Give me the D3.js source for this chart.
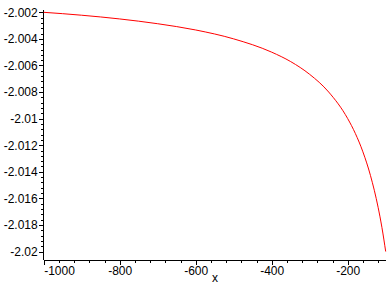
<!DOCTYPE html>
<html>
<head>
<meta charset="utf-8">
<script src="https://cdn.jsdelivr.net/npm/d3@7"></script>
<style>
  body { margin: 0; background: #fff; }
  text { font-family: "Liberation Sans", Arial, sans-serif; }
</style>
</head>
<body>
<div id="chart"></div>
<script>
// curve samples
const xValues = [-1000, -900, -800, -700, -600, -500, -400, -350, -300, -250, -200, -180, -160, -140, -120, -110, -100];
const yValues = [-2.0020, -2.00222, -2.0025, -2.00286, -2.00333, -2.0040, -2.0050, -2.00571, -2.00667, -2.0080, -2.0100, -2.01111, -2.0125, -2.01429, -2.01667, -2.01818, -2.0200];

const xTicks = [-1000, -800, -600, -400, -200];
const yTicks = [-2.002, -2.004, -2.006, -2.008, -2.01, -2.012, -2.014, -2.016, -2.018, -2.02];
const xMinorTicks = d3.range(-1000, -99, 40);
const yMinorTicks = d3.range(0, 46).map(i => -2.002 - i * 0.0004);
const xTitle = 'x';

const width = 388;
const height = 288;

const points = xValues.map((x, i) => ({ x: x, y: yValues[i] }));

const svg = d3.select('#chart')
  .append('svg')
  .attr('width', width)
  .attr('height', height);

const x = d3.scaleLinear()
  .domain([-1000, -100])
  .range([43.7, 385.7]);

const y = d3.scaleLinear()
  .domain([-2.0206, -2.002])
  .range([259.5, 12.3]);

const yTop = 10;

// x axis: minor then major ticks
svg.append('g')
  .attr('transform', `translate(0,${y(-2.0206)})`)
  .attr('shape-rendering', 'crispEdges')
  .call(d3.axisBottom(x).tickValues(xMinorTicks).tickSize(3).tickSizeOuter(0).tickFormat(''));

const xAxis = svg.append('g')
  .attr('transform', `translate(0,${y(-2.0206)})`)
  .attr('shape-rendering', 'crispEdges')
  .call(d3.axisBottom(x).tickValues(xTicks).tickSize(5).tickSizeOuter(0).tickPadding(2)
    .tickFormat(d => String(d)));

xAxis.selectAll('text')
  .attr('font-size', 12)
  .attr('fill', '#000')
  .attr('font-family', '"Liberation Sans", Arial, sans-serif')
  .filter(d => d === -1000)
  .attr('text-anchor', 'start');

// y axis
svg.append('g')
  .attr('transform', `translate(${x(-1000)},0)`)
  .attr('shape-rendering', 'crispEdges')
  .call(d3.axisLeft(y).tickValues(yMinorTicks.filter(v => v >= -2.0206)).tickSize(3).tickSizeOuter(0).tickFormat(''))
  .select('.domain').remove();

const yAxis = svg.append('g')
  .attr('transform', `translate(${x(-1000)},0)`)
  .attr('shape-rendering', 'crispEdges')
  .call(d3.axisLeft(y).tickValues(yTicks).tickSize(5).tickSizeOuter(0).tickPadding(1)
    .tickFormat(d => String(+d.toFixed(3))));

yAxis.select('.domain').remove();
yAxis.selectAll('text')
  .attr('font-size', 12)
  .attr('fill', '#000')
  .attr('font-family', '"Liberation Sans", Arial, sans-serif');

svg.append('line')
  .attr('x1', x(-1000)).attr('x2', x(-1000))
  .attr('y1', yTop).attr('y2', y(-2.0206))
  .attr('stroke', '#000')
  .attr('shape-rendering', 'crispEdges');

svg.append('text')
  .attr('x', 215)
  .attr('y', 282)
  .attr('text-anchor', 'middle')
  .attr('font-size', 12)
  .text(xTitle);

// curve
const line = d3.line()
  .x(d => x(d.x))
  .y(d => y(d.y))
  .curve(d3.curveMonotoneX);

svg.append('path')
  .datum(points)
  .attr('fill', 'none')
  .attr('stroke', '#ff0000')
  .attr('stroke-width', 1)
  .attr('d', line);
</script>
</body>
</html>
